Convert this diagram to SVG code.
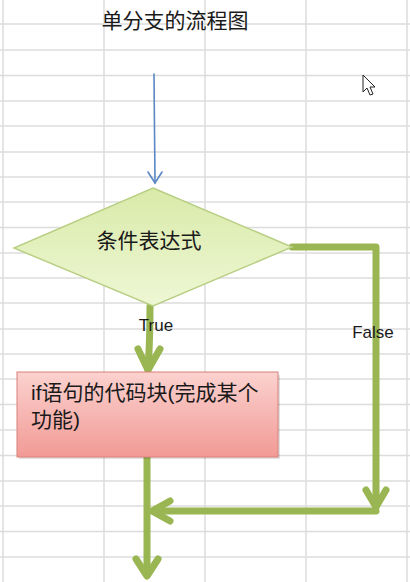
<svg xmlns="http://www.w3.org/2000/svg" width="410" height="582" viewBox="0 0 410 582">
<defs>
<style>
.grid line{stroke:#dcdcdc;stroke-width:1.5}
.cjk{font-family:"Liberation Sans","Noto Sans CJK SC",sans-serif;fill:#1a1a1a}
.lbl{font-family:"Liberation Sans","Noto Sans",sans-serif;font-size:17px;fill:#1a1a1a}
.g{fill:none;stroke:#99b653;stroke-width:7;stroke-linecap:round;stroke-linejoin:round}
</style>
<linearGradient id="dg" x1="0" y1="0" x2="0" y2="1">
<stop offset="0" stop-color="#d9eaa9"/>
<stop offset="1" stop-color="#eef7d4"/>
</linearGradient>
<linearGradient id="rg" x1="0" y1="0" x2="0" y2="1">
<stop offset="0" stop-color="#fbd2cf"/>
<stop offset="1" stop-color="#f29a95"/>
</linearGradient>
</defs>
<rect width="410" height="582" fill="#ffffff"/>
<g class="grid">
<line x1="3" y1="0" x2="3" y2="582"/>
<line x1="104" y1="0" x2="104" y2="582"/>
<line x1="205" y1="0" x2="205" y2="582"/>
<line x1="306" y1="0" x2="306" y2="582"/>
<line x1="407" y1="0" x2="407" y2="582"/>
<line x1="0" y1="24" x2="410" y2="24"/>
<line x1="0" y1="50" x2="410" y2="50"/>
<line x1="0" y1="75.5" x2="410" y2="75.5"/>
<line x1="0" y1="101" x2="410" y2="101"/>
<line x1="0" y1="126" x2="410" y2="126"/>
<line x1="0" y1="152" x2="410" y2="152"/>
<line x1="0" y1="177" x2="410" y2="177"/>
<line x1="0" y1="202" x2="410" y2="202"/>
<line x1="0" y1="227.5" x2="410" y2="227.5"/>
<line x1="0" y1="253" x2="410" y2="253"/>
<line x1="0" y1="278" x2="410" y2="278"/>
<line x1="0" y1="303" x2="410" y2="303"/>
<line x1="0" y1="329" x2="410" y2="329"/>
<line x1="0" y1="354" x2="410" y2="354"/>
<line x1="0" y1="379" x2="410" y2="379"/>
<line x1="0" y1="404.5" x2="410" y2="404.5"/>
<line x1="0" y1="430" x2="410" y2="430"/>
<line x1="0" y1="455.5" x2="410" y2="455.5"/>
<line x1="0" y1="481" x2="410" y2="481"/>
<line x1="0" y1="506" x2="410" y2="506"/>
<line x1="0" y1="531.5" x2="410" y2="531.5"/>
<line x1="0" y1="557" x2="410" y2="557"/>
</g>
<text x="175" y="28" class="cjk" font-size="21" text-anchor="middle">单分支的流程图</text>
<g id="connectors">
<g id="start-arrow" fill="none" stroke="#5a86c4" stroke-width="1.6" stroke-linecap="round">
<line x1="154" y1="74" x2="155" y2="183"/>
<polyline points="148,172 155,183 162,172"/>
</g>
<g id="true-arrow">
<path class="g" d="M150,306 Q150,340 148,370"/>
<polyline class="g" points="138,349 148,370 160,349"/>
</g>
<g id="false-arrow">
<polyline class="g" points="292,247 376,247 376,507"/>
<polyline class="g" points="366,490 376,507 386,490"/>
</g>
<g id="merge-arrow">
<line class="g" x1="376" y1="511" x2="153" y2="511"/>
<polyline class="g" points="170,501 152,511 170,521"/>
</g>
<g id="end-arrow">
<line class="g" x1="147" y1="457" x2="147" y2="575"/>
<polyline class="g" points="136,559 147,576 158,559"/>
</g>
</g>
<g id="decision">
<polygon points="153,188 292,247 153,306 14,248" fill="url(#dg)" stroke="#b9cf84" stroke-width="1.5"/>
<text x="149" y="248" class="cjk" font-size="21" text-anchor="middle">条件表达式</text>
</g>
<g id="label-true"><text x="156" y="331" class="lbl" text-anchor="middle">True</text></g>
<g id="label-false"><text x="373" y="338" class="lbl" text-anchor="middle">False</text></g>
<g id="process">
<rect x="19" y="375" width="261" height="84" fill="#000" opacity="0.12"/>
<rect x="17" y="372" width="261" height="85" fill="url(#rg)" stroke="#d9807b" stroke-width="1"/>
<text class="cjk" font-size="21"><tspan x="31" y="400">if语句的代码块(完成某个</tspan><tspan x="31" y="427">功能)</tspan></text>
</g>
<path d="M363,75 L363,92 L367,88 L370,95 L373,94 L370,87 L375,87 Z" fill="#fff" stroke="#222" stroke-width="1"/>
</svg>
